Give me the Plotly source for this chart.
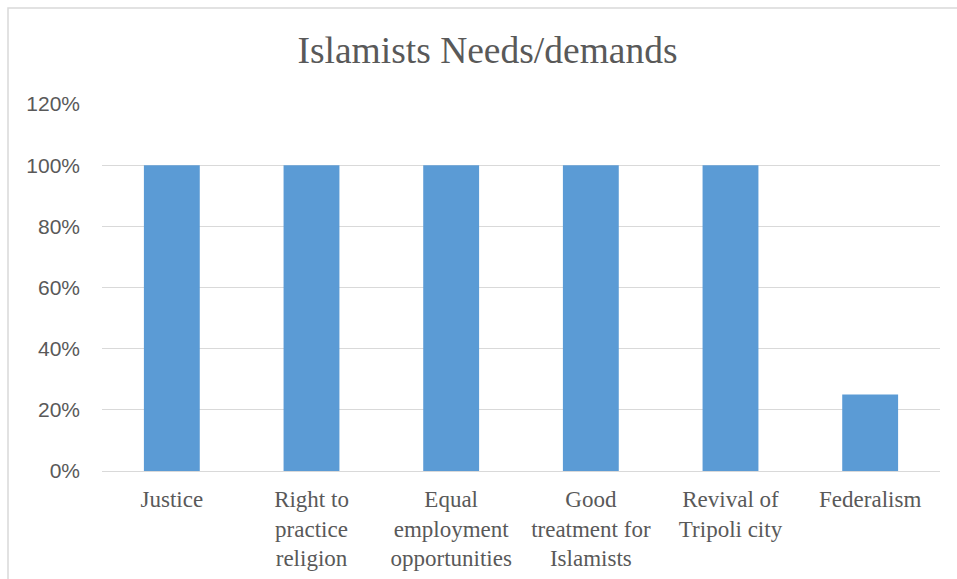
import plotly.graph_objects as go

categories = ["Justice", "Right to<br>practice<br>religion", "Equal<br>employment<br>opportunities",
              "Good<br>treatment for<br>Islamists", "Revival of<br>Tripoli city", "Federalism"]
values = [1.00, 1.00, 1.00, 1.00, 1.00, 0.25]
y_ticks = [0, 0.2, 0.4, 0.6, 0.8, 1.0, 1.2]
y_tick_labels = ["0%", "20%", "40%", "60%", "80%", "100%", "120%"]

W, H = 957, 579
L, R, T, B = 102, 17, 104, 108
pw, ph = W - L - R, H - T - B

SERIF = "Liberation Serif, Times New Roman, serif"

fig = go.Figure(go.Bar(x=categories, y=values, marker_color="#5B9BD5",
                       marker_line_width=0, width=0.4))

fig.update_layout(
    width=W, height=H,
    margin=dict(l=L, r=R, t=T, b=B, autoexpand=False),
    paper_bgcolor="white", plot_bgcolor="white",
    showlegend=False,
    font=dict(family=SERIF, color="#595959"),
    title=dict(text="Islamists Needs/demands", x=487.5 / W, xanchor="center",
               y=1 - 50 / H, yanchor="middle",
               font=dict(family=SERIF, size=37.5, color="#595959")),
    xaxis=dict(showgrid=False, showline=True, linecolor="#D9D9D9", linewidth=1,
               ticks="", tickfont=dict(family=SERIF, size=23, color="#595959"),
               ticklabelstandoff=7, tickangle=0, automargin=False),
    yaxis=dict(range=[0, 1.2], tickvals=y_ticks, ticktext=y_tick_labels,
               showgrid=True, gridcolor="#D9D9D9", gridwidth=1, zeroline=False,
               showline=False, ticks="", automargin=False,
               tickfont=dict(family="Liberation Sans, Arial, sans-serif", size=21, color="#595959"),
               ticklabelstandoff=21),
    bargap=0.6,
)

# chart area border (left and top edges visible)
x0 = (8 - L) / pw
y1 = 1 + (T - 8) / ph
fig.add_shape(type="rect", xref="paper", yref="paper", x0=x0, x1=1 + 30 / pw,
              y0=-(B + 30) / ph, y1=y1, line=dict(color="#D9D9D9", width=1.5),
              fillcolor="rgba(0,0,0,0)", layer="below")

fig.write_html("out.html")
